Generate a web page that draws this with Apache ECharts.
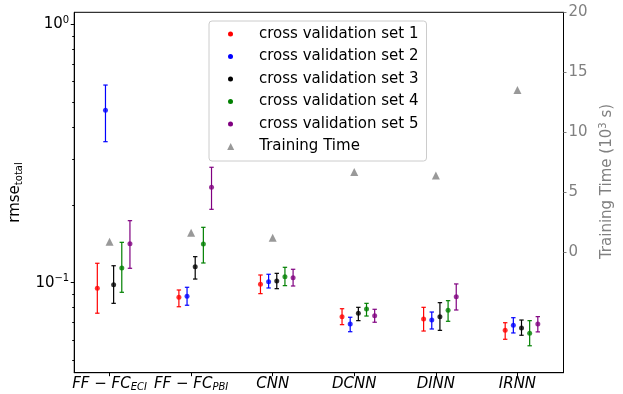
<!DOCTYPE html>
<html><head><meta charset="utf-8">
<script src="https://cdn.jsdelivr.net/npm/echarts@6/dist/echarts.min.js"></script>
<style>html,body{margin:0;padding:0;background:#fff}#c{width:623px;height:394px}</style>
</head><body><div id="c"></div>
<script>
// ---- data ----
const categories = ['FF − FC_ECI', 'FF − FC_PBI', 'CNN', 'DCNN', 'DINN', 'IRNN'];
const cvNames = ['cross validation set 1', 'cross validation set 2', 'cross validation set 3', 'cross validation set 4', 'cross validation set 5'];
// each entry: [mean, lower end, upper end]
const cv1 = [[0.0951,0.0762,0.1189],[0.0878,0.0807,0.0937],[0.0986,0.0907,0.1071],[0.0739,0.0688,0.0793],[0.0724,0.0650,0.0803],[0.0654,0.0604,0.0700]];
const cv2 = [[0.4648,0.3513,0.5820],[0.0886,0.0818,0.0960],[0.1009,0.0954,0.1078],[0.0692,0.0646,0.0735],[0.0717,0.0662,0.0770],[0.0684,0.0639,0.0732]];
const cv3 = [[0.0982,0.0832,0.1163],[0.1153,0.1033,0.1261],[0.1015,0.0948,0.1087],[0.0762,0.0713,0.0803],[0.0739,0.0654,0.0837],[0.0668,0.0626,0.0717]];
const cv4 = [[0.1140,0.0918,0.1433],[0.1411,0.1192,0.1638],[0.1055,0.0974,0.1147],[0.0791,0.0743,0.0832],[0.0782,0.0709,0.0852],[0.0637,0.0570,0.0713]];
const cv5 = [[0.1415,0.1137,0.1738],[0.2339,0.1923,0.2797],[0.1045,0.0971,0.1127],[0.0745,0.0703,0.0789],[0.0883,0.0784,0.0989],[0.0692,0.0645,0.0739]];
const trainingTime = [0.89, 1.64, 1.23, 6.70, 6.42, 13.54];
const rmseTicks = [0.1, 1];
const rmseMinorTicks = [0.05,0.06,0.07,0.08,0.09,0.2,0.3,0.4,0.5,0.6,0.7,0.8,0.9];
const timeTicks = [0, 5, 10, 15, 20];

// ---- styling / layout ----
const FONT = 'DejaVu Sans';
const colors = ['#ff0000', '#0000ff', '#000000', '#008000', '#800080'];
const offsets = [-0.15, -0.05, 0.05, 0.15, 0.25];
const cvSets = [cv1, cv2, cv3, cv4, cv5];
const catIdx = categories.map((_, i) => i);

function catLabel(v) {
  const i = Math.round(v);
  const c = categories[i];
  if (c === undefined) return '';
  const parts = c.split('_');
  let s = parts[0].split('−').map(p => '{i|' + p.trim() + '}').join('{m| − }');
  if (parts[1]) s += '{s|' + parts[1] + '}';
  return s;
}
function supLabel(v) {
  const e = Math.round(Math.log10(v));
  return '{b|10}{p|' + (e < 0 ? '−' + (-e) : e) + '}';
}

const series = [];
cvSets.forEach((set, s) => {
  series.push({
    type: 'custom', name: cvNames[s], yAxisIndex: 0,
    encode: { x: 0, y: [1, 2, 3] },
    data: set.map((d, i) => [i + offsets[s], d[0], d[1], d[2]]),
    itemStyle: { color: colors[s] },
    renderItem: function (params, api) {
      const x = api.value(0);
      const top = api.coord([x, api.value(3)]);
      const bot = api.coord([x, api.value(2)]);
      const c = 2.2;
      const st = { stroke: colors[s], lineWidth: 1.2 };
      return { type: 'group', children: [
        { type: 'line', shape: { x1: top[0], y1: top[1], x2: bot[0], y2: bot[1] }, style: st },
        { type: 'line', shape: { x1: top[0]-c, y1: top[1], x2: top[0]+c, y2: top[1] }, style: st },
        { type: 'line', shape: { x1: bot[0]-c, y1: bot[1], x2: bot[0]+c, y2: bot[1] }, style: st }
      ]};
    },
    z: 2
  });
  series.push({
    type: 'scatter', name: cvNames[s], yAxisIndex: 0,
    data: set.map((d, i) => [i + offsets[s], d[0]]),
    symbol: 'circle', symbolSize: 5,
    itemStyle: { color: colors[s] }, z: 3
  });
});
series.push({
  type: 'scatter', name: 'Training Time', yAxisIndex: 1,
  data: trainingTime.map((v, i) => [i, v]),
  symbol: 'triangle', symbolSize: 8,
  itemStyle: { color: '#808080' }, z: 3
});

const legendText = { fontFamily: FONT, fontSize: 15, color: '#000', lineHeight: 18, padding: [0, 0, 0, 21] };

const option = {
  animation: false,
  backgroundColor: '#fff',
  textStyle: { fontFamily: FONT },
  grid: { left: 69, right: 55, top: 12.3, bottom: 21.3, show: true, borderColor: '#000', borderWidth: 1, backgroundColor: 'transparent' },
  legend: [
    {
      data: cvNames.map(n => ({ name: n, icon: 'circle' })),
      orient: 'vertical', left: 209, top: 21,
      padding: [4, 8, 28, 19], itemWidth: 5, itemHeight: 5, itemGap: 4.5,
      textStyle: legendText,
      backgroundColor: 'rgba(255,255,255,0.8)', borderColor: '#cccccc', borderWidth: 1, borderRadius: 3
    },
    {
      data: [{ name: 'Training Time', icon: 'triangle' }],
      orient: 'vertical', left: 227.2, top: 137.5, padding: 0,
      itemWidth: 7, itemHeight: 7, textStyle: Object.assign({}, legendText, { padding: [0, 0, 0, 20] })
    }
  ],
  xAxis: {
    type: 'value', min: -0.433, max: 5.565,
    axisLine: { show: true, onZero: false, lineStyle: { color: '#000', width: 1 } },
    axisTick: { show: true, customValues: catIdx, length: 3.5, lineStyle: { color: '#000' } },
    axisLabel: {
      customValues: catIdx, formatter: catLabel, margin: 2, color: '#000',
      rich: {
        i: { fontFamily: FONT, fontStyle: 'italic', fontSize: 15, lineHeight: 18, color: '#000' },
        m: { fontFamily: FONT, fontSize: 15, lineHeight: 18, color: '#000' },
        s: { fontFamily: FONT, fontStyle: 'italic', fontSize: 10, lineHeight: 10, verticalAlign: 'bottom', color: '#000' }
      }
    },
    splitLine: { show: false }
  },
  yAxis: [
    {
      type: 'log', logBase: 10, min: 0.04484, max: 1.1129, position: 'left',
      name: '{a|rmse}{t|total}', nameLocation: 'middle', nameGap: 39,
      nameTextStyle: { rich: {
        a: { fontFamily: FONT, fontSize: 15, lineHeight: 18, color: '#000' },
        t: { fontFamily: FONT, fontSize: 10, lineHeight: 10, verticalAlign: 'bottom', color: '#000' }
      } },
      axisLine: { show: true, onZero: false, lineStyle: { color: '#000', width: 1 } },
      axisTick: { show: true, customValues: rmseTicks, length: 3.5, lineStyle: { color: '#000' } },
      axisLabel: {
        customValues: rmseTicks, formatter: supLabel, margin: 5, color: '#000',
        rich: {
          b: { fontFamily: FONT, fontSize: 15, lineHeight: 18, color: '#000' },
          p: { fontFamily: FONT, fontSize: 10, lineHeight: 10, verticalAlign: 'top', color: '#000' }
        }
      },
      splitLine: { show: false }
    },
    {
      type: 'value', min: -10, max: 20, position: 'right',
      name: '{a|Training Time (10}{p|3}{a| s)}', nameLocation: 'middle', nameGap: 20,
      nameTextStyle: { padding: [0, 0, 0, 22], rich: {
        a: { fontFamily: FONT, fontSize: 15, lineHeight: 18, color: '#808080' },
        p: { fontFamily: FONT, fontSize: 10, lineHeight: 10, verticalAlign: 'top', color: '#808080' }
      } },
      axisLine: { show: true, onZero: false, lineStyle: { color: '#000', width: 1 } },
      axisTick: { show: true, customValues: timeTicks, length: 3, lineStyle: { color: '#808080' } },
      axisLabel: { customValues: timeTicks, margin: 5, color: '#808080', fontFamily: FONT, fontSize: 15 },
      splitLine: { show: false }
    },
    {
      type: 'log', logBase: 10, min: 0.04484, max: 1.1129, position: 'left',
      axisLine: { show: false, onZero: false },
      axisTick: { show: true, customValues: rmseMinorTicks, length: 2, lineStyle: { color: '#000' } },
      axisLabel: { show: false },
      splitLine: { show: false }
    }
  ],
  series: series
};

const chart = echarts.init(document.getElementById('c'), null, { renderer: 'canvas' });
chart.setOption(option);
</script>
</body></html>
